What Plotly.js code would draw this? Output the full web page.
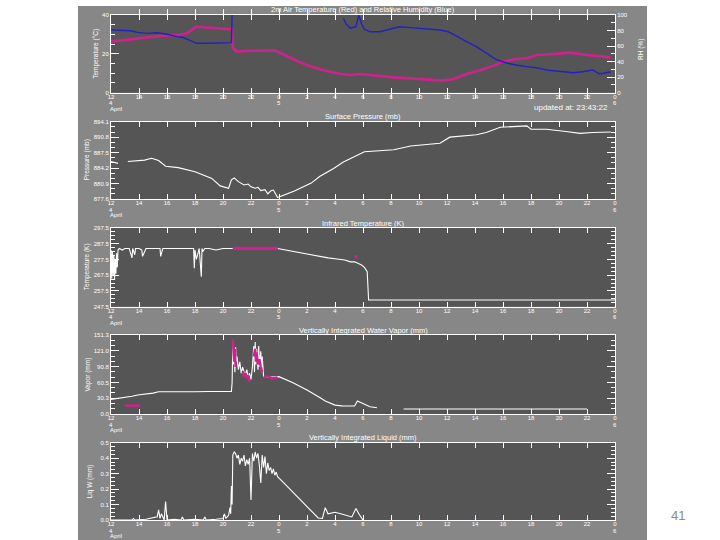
<!DOCTYPE html>
<html><head><meta charset="utf-8">
<script src="https://cdn.plot.ly/plotly-3.0.1.min.js"></script>
<style>html,body{margin:0;padding:0;background:#fff}</style>
</head><body><div id="chart" style="width:720px;height:540px"></div>
<script>
// ---------- DATA ----------
// x values are hours since 12:00, 4 April
const hourTicks  = [0,2,4,6,8,10,12,14,16,18,20,22,24,26,28,30,32,34,36];
const hourLabels = ['12','14','16','18','20','22','0','2','4','6','8','10','12','14','16','18','20','22','0'];
const dayTickHours = [0, 12, 36];
const dayLabels    = ['4', '5', '6'];
const monthLabels  = ['April', '', ''];

// Panel 1: 2 m air temperature (°C)
const tempH = [0,1.1,2.3,3.5,4.7,5.4,5.8,6.1,6.6,7.6,8.6,8.65,8.7,9.0,9.6,10.8,11.7,12.4,13.4,14.3,15.3,16.4,17.1,17.8,19,20.2,21.4,22.5,23.7,24.4,25.4,26.4,27.3,28,28.8,29.7,30.4,31.6,32.8,34,34.9,35.7];
const tempC = [26.3,27.2,28.5,29.2,29.7,30.5,32.5,34.0,33.7,33.2,32.8,32.6,23.0,21.1,21.5,21.5,21.8,19.4,16.0,13.4,11.3,9.6,9.1,9.6,8.6,7.9,7.4,6.9,6.2,6.9,9.6,11.7,13.8,16.0,17.2,17.7,19.4,19.9,20.6,19.4,18.6,18.2];
// Panel 1: relative humidity (%)
const rhH = [0,0.7,1.4,1.9,2.6,3.3,4.0,4.7,5.1,5.6,6.1,7.0,8.0,8.6,8.65,8.7,16.6,16.8,17.1,17.5,17.7,17.9,18.1,18.5,19.2,19.9,20.6,21.4,22.1,22.8,23.5,24.1,24.7,25.4,26.1,26.8,27.5,28.2,28.9,29.7,30.4,31.1,32,33,33.7,34.4,34.9,35.7];
const rhV = [80.7,79.8,79.8,77.7,76.4,77.2,75.2,72.1,71.3,67.8,63.6,63.6,64.4,64.4,100,null,95.7,88.4,82.9,84.9,100,88.4,81.6,78.5,78.5,81.6,84.9,83.7,82.9,82.0,80.7,78.5,72.1,65.6,59.2,51.5,43.0,38.6,35.6,33.5,32.2,29.2,27.9,25.7,27.0,29.2,24.1,27.0];

// Panel 2: surface pressure (mb)
const presH = [0,0.5,0.6,1.2,2.0,2.4,2.9,3.4,3.9,4.8,6.0,7.2,7.8,8.4,8.6,8.8,9.1,9.3,9.5,9.8,10.0,10.3,10.5,10.7,11.0,11.2,11.4,11.6,11.9,13.1,14.3,14.9,15.9,16.6,17.8,18.1,20.2,21.4,23.5,24.2,26.1,26.8,27.8,29.7,30.0,31.1,32.5,33.5,34.4,35.5,35.7];
const presV = [885.6,885.2,null,885.6,885.8,885.9,886.3,885.8,884.6,884.3,883.4,882.0,880.4,879.9,881.7,882.1,881.3,880.9,880.6,880.8,880.2,879.9,880.1,879.4,879.6,878.7,879.3,879.5,877.9,879.3,881.0,882.4,884.1,885.5,887.4,887.7,888.1,888.9,889.5,890.8,891.3,891.8,892.9,893.2,892.5,892.5,892.0,891.6,891.8,892.0,891.9];
const presTicks = [877.6,880.9,884.2,887.5,890.8,894.1];

// Panel 3: infrared temperature (K)
const irH = [0,0.05,0.1,0.15,0.2,0.25,0.3,0.35,0.4,0.45,0.5,0.6,0.8,1.0,1.3,1.5,1.55,1.7,1.75,2.0,2.2,2.25,2.5,3.0,3.5,3.55,3.7,4.0,4.5,5.0,5.5,5.9,5.95,6.0,6.1,6.3,6.45,6.5,6.55,6.7,7.0,7.5,8.0,8.5,8.7,8.75,11.9,12.5,13,13.5,14.3,15.1,15.5,16,16.7,17.1,17.4,17.9,18.1,18.3,18.35,18.4,36];
const irV = [283.5,265.5,282.5,267.5,280.5,264.5,277.5,268.5,281.5,272.5,283.5,284.5,283.5,284.5,284.5,278.5,284.5,280.5,284.5,284.5,283.5,279.5,284.5,284.5,284.5,279.5,284.5,284.5,284.5,284.5,284.5,284.5,272.0,283.5,277.5,284.5,266.5,284.5,282.5,284.5,284.5,283.5,284.5,284.5,284.5,null,284.5,283.5,282.5,281.5,280.4,279.0,278.5,278.0,277.2,276.0,276.1,274.0,272.5,269.8,257.2,251.8,251.8];
const irMagH = [8.7,11.9,null,17.4,17.6];
const irMagV = [284.5,284.5,null,279.3,279.3];
const irTicks = [247.5,257.5,267.5,277.5,287.5,297.5];

// Panel 4: vertically integrated water vapour (mm)
const wvH = [0,0.3,0.6,1.0,1.5,1.9,2.5,3.0,3.4,4.0,5.0,6.0,7.0,8.0,8.6,8.65,8.7,8.75,8.8,8.85,8.9,8.95,9.0,9.1,9.2,9.3,9.4,9.5,9.6,9.7,9.8,9.9,10.0,10.1,10.2,10.25,10.3,10.35,10.4,10.5,10.55,10.6,10.7,10.75,10.8,10.9,11.0,11.5,12.0,13,14,15,15.3,16,16.5,17.4,17.6,17.8,18.2,18.5,19.0,19.05,20.9,22,23,24,25,26,27,28,29,30,31,32,33,34];
const wvV = [28,29,30,32,34,36.4,38,40,42.7,42.5,43,42.5,43,42.5,43,60,132,95,120,80,128,100,110,85,100,78,90,80,75,85,70,78,66,90,130,80,138,95,125,85,130,90,120,80,110,72,70,71,71.5,60,46,30,25,17,15.5,15.3,25,22.4,17,14,12,null,9.6,9.6,9.8,9.6,9.6,9.6,9.6,9.8,9.6,9.6,9.6,9.8,9.6,9.6];
const wvMagH = [1.0,2.1,null,8.7,8.75,8.8,8.85,8.9,null,9.4,9.5,9.6,9.7,9.8,9.9,null,10.2,10.3,10.35,10.4,10.5,10.6,10.7,10.8,null,10.9,11.2,11.5,11.9];
const wvMagV = [16,16,null,143,120,100,125,90,null,82,72,78,68,74,62,null,110,125,100,118,95,105,90,80,null,70,72,68,70];
const wvTicks = [0,30.26,60.52,90.78,121.04,151.3];

// Panel 5: vertically integrated liquid water (mm)
const lwH = [0,1.5,1.6,1.7,2.5,3.3,3.4,3.5,3.6,3.8,3.9,4.0,4.5,5.0,5.1,5.2,6.0,6.6,6.7,6.8,7.5,8.0,8.1,8.2,8.4,8.5,8.55,8.6,8.65,8.7,8.8,8.9,9.0,9.1,9.2,9.3,9.4,9.5,9.6,9.7,9.8,9.9,10.0,10.05,10.1,10.2,10.3,10.4,10.5,10.6,10.7,10.8,10.9,11.0,11.1,11.2,11.3,11.4,11.5,11.6,11.7,11.8,11.9,12.5,13,13.5,14,14.5,14.8,15.1,15.3,15.5,16.0,16.4,16.8,17.2,17.5,17.7,18.0];
const lwV = [0,0,0.01,0,0.005,0.02,0.065,0.01,0.04,0,0.12,0,0.005,0,0.02,0,0.005,0,0.02,0,0.005,0.01,0.04,0.01,0.03,0.08,0.04,0.22,0.1,0.42,0.44,0.43,0.40,0.42,0.36,0.40,0.38,0.42,0.35,0.39,0.36,0.40,0.13,0.3,0.43,0.38,0.44,0.40,0.43,0.35,0.24,0.42,0.34,0.41,0.30,0.37,0.32,0.34,0.30,0.33,0.29,0.31,0.28,0.225,0.18,0.135,0.086,0.04,0.013,0.01,0.08,0.04,0.05,0.04,0.03,0.02,0.075,0.04,0];
const lwTicks = [0,0.1,0.2,0.3,0.4,0.5];

// ---------- STYLE / LAYOUT ----------
const W = 720, H = 540;
const fx = p => p / W, fy = p => 1 - p / H;
const FONT = 'Liberation Sans, DejaVu Sans, sans-serif';
const WHITE = '#ffffff', MAG = '#d0228c', BLUE = '#2222c0';
const xL = 111, xR = 615;
const panels = [
  {xa:'x',  ya:'y',  top:15,    bot:92.7, title:'2m Air Temperature (Red) and Relative Humidity (Blue)', ytitle:'Temperature (°C)', ytx:96},
  {xa:'x2', ya:'y3', top:121.7, bot:199,  title:'Surface Pressure (mb)', ytitle:'Pressure (mb)', ytx:87},
  {xa:'x3', ya:'y4', top:228,   bot:306.7,title:'Infrared Temperature (K)', ytitle:'Temperature (K)', ytx:87},
  {xa:'x4', ya:'y5', top:335,   bot:414,  title:'Vertically Integrated Water Vapor (mm)', ytitle:'Vapor (mm)', ytx:87},
  {xa:'x5', ya:'y6', top:442.7, bot:520,  title:'Vertically Integrated Liquid (mm)', ytitle:'Liq W (mm)', ytx:90}
];

function xAxis(anchor) {
  return {domain:[fx(xL), fx(xR)], range:[0,36], anchor:anchor, tickmode:'array',
    tickvals:hourTicks, ticktext:hourLabels, ticks:'inside', ticklen:5, tickcolor:WHITE, tickwidth:1,
    ticklabelstandoff:-2,
    showline:true, linecolor:WHITE, linewidth:1, mirror:'allticks', showgrid:false, zeroline:false,
    tickfont:{family:FONT, size:6, color:WHITE}, fixedrange:true};
}
function yAxis(p, anchor, range, ticks, fmt, minorD, mirror) {
  return {domain:[fy(p.bot), fy(p.top)], range:range, anchor:anchor, tickmode:'array', tickvals:ticks,
    tickformat:fmt, ticks:'inside', ticklen:8, tickcolor:WHITE, tickwidth:1,
    minor:{tickmode:'linear', tick0:range[0], dtick:minorD, ticks:'inside', ticklen:4, tickcolor:WHITE, tickwidth:1, showgrid:false},
    showline:true, linecolor:WHITE, linewidth:1, mirror:mirror, showgrid:false, zeroline:false,
    tickfont:{family:FONT, size:6, color:WHITE}, fixedrange:true};
}

const traces = [
  {x:rhH, y:rhV, xaxis:'x', yaxis:'y2', mode:'lines', line:{color:BLUE, width:1.4}, connectgaps:false},
  {x:tempH, y:tempC, xaxis:'x', yaxis:'y', mode:'lines', line:{color:MAG, width:2.6}},
  {x:presH, y:presV, xaxis:'x2', yaxis:'y3', mode:'lines', line:{color:WHITE, width:1.1}, connectgaps:false},
  {x:irH, y:irV, xaxis:'x3', yaxis:'y4', mode:'lines', line:{color:WHITE, width:1.1}, connectgaps:false},
  {x:irMagH, y:irMagV, xaxis:'x3', yaxis:'y4', mode:'lines', line:{color:MAG, width:3.2}, connectgaps:false},
  {x:wvH, y:wvV, xaxis:'x4', yaxis:'y5', mode:'lines', line:{color:WHITE, width:1.1}, connectgaps:false},
  {x:wvMagH, y:wvMagV, xaxis:'x4', yaxis:'y5', mode:'lines', line:{color:MAG, width:2.4}, connectgaps:false},
  {x:lwH, y:lwV, xaxis:'x5', yaxis:'y6', mode:'lines', line:{color:WHITE, width:1.1}}
];

const annotations = [];
const txt = (text, x, y, opts) => Object.assign({text:text, x:x, y:y, xref:'paper', yref:'paper', showarrow:false,
  xanchor:'center', yanchor:'middle', font:{family:FONT, size:7.5, color:WHITE}}, opts||{});
panels.forEach(p => {
  annotations.push(txt(p.title, fx((xL+xR)/2), fy(p.top-5)));
  annotations.push(txt(p.ytitle, fx(p.ytx), fy((p.top+p.bot)/2), {textangle:-90, font:{family:FONT, size:6.5, color:WHITE}}));
  dayTickHours.forEach((h,i) => {
    annotations.push(txt(dayLabels[i], h, fy(p.bot+10.5), {xref:p.xa, font:{family:FONT, size:6, color:WHITE}}));
    if (monthLabels[i]) annotations.push(txt(monthLabels[i], h, fy(p.bot+15.8), {xref:p.xa, xanchor:'left', xshift:-3, font:{family:FONT, size:6, color:WHITE}}));
  });
});
annotations.push(txt('RH (%)', fx(641), fy(50), {textangle:-90, font:{family:FONT, size:6.5, color:WHITE}}));
annotations.push(txt('updated at: 23:43:22', fx(610), fy(108), {xanchor:'right', font:{family:FONT, size:8, color:WHITE}}));
annotations.push(txt('41', fx(678), fy(515), {font:{family:'Liberation Sans, sans-serif', size:13, color:'#8c8c8c'}}));

const layout = {
  width:W, height:H, margin:{l:0,r:0,t:0,b:0,pad:0}, showlegend:false,
  paper_bgcolor:'#878787', plot_bgcolor:'#555555',
  xaxis:xAxis('y'), xaxis2:xAxis('y3'), xaxis3:xAxis('y4'), xaxis4:xAxis('y5'), xaxis5:xAxis('y6'),
  yaxis:yAxis(panels[0],'x',[0,40],[0,20,40],'d',5,false),
  yaxis2:Object.assign(yAxis(panels[0],'x',[0,100],[0,20,40,60,80,100],'d',10,false), {overlaying:'y', side:'right'}),
  yaxis3:yAxis(panels[1],'x2',[877.6,894.1],presTicks,'.1f',1.1,'allticks'),
  yaxis4:yAxis(panels[2],'x3',[247.5,297.5],irTicks,'.1f',2.5,'allticks'),
  yaxis5:yAxis(panels[3],'x4',[0,151.3],wvTicks,'.1f',30.26/3,'allticks'),
  yaxis6:yAxis(panels[4],'x5',[0,0.5],lwTicks,'.1f',0.025,'allticks'),
  shapes:[
    {type:'rect', xref:'paper', yref:'paper', x0:0, x1:fx(78), y0:0, y1:1, fillcolor:'#ffffff', line:{width:0}, layer:'below'},
    {type:'rect', xref:'paper', yref:'paper', x0:fx(647), x1:1, y0:0, y1:1, fillcolor:'#ffffff', line:{width:0}, layer:'below'},
    {type:'rect', xref:'paper', yref:'paper', x0:0, x1:1, y0:fy(6), y1:1, fillcolor:'#ffffff', line:{width:0}, layer:'below'}
  ],
  annotations:annotations
};
Plotly.newPlot('chart', traces, layout, {staticPlot:true, displayModeBar:false});
</script></body></html>
